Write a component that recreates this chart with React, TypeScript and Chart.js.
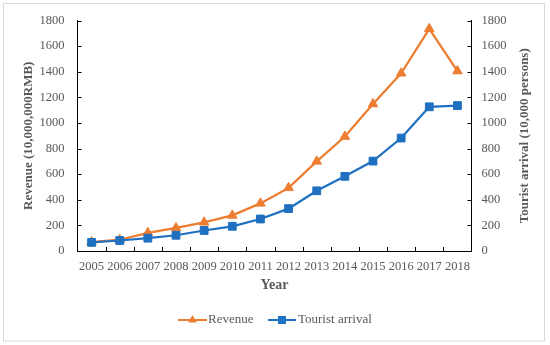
import React, { useEffect, useRef } from "react";
import { Chart, registerables } from "chart.js";

Chart.register(...registerables);

const years = ["2005","2006","2007","2008","2009","2010","2011","2012","2013","2014","2015","2016","2017","2018"];
const revenue = [70, 88, 142, 180, 224, 278, 372, 493, 700, 894, 1148, 1388, 1735, 1405];
const tourists = [67, 82, 100, 123, 160, 193, 250, 331, 470, 583, 702, 882, 1126, 1136];
const yTicksMax = 1800;
const yStep = 200;

const ORANGE = "#ED7D31";
const BLUE = "#1F70C1";
const GRAY = "#595959";
const FONT = "'Liberation Serif', 'Times New Roman', serif";

const decorPlugin = {
  id: "decor",
  beforeDraw(chart: any) {
    const ctx = chart.ctx;
    ctx.save();
    ctx.fillStyle = "#fff";
    ctx.fillRect(0, 0, chart.width, chart.height);
    ctx.strokeStyle = "#d9d9d9";
    ctx.lineWidth = 1;
    ctx.strokeRect(3.5, 3.5, 541, 337.5);
    ctx.restore();
  },
  afterDraw(chart: any) {
    const ctx = chart.ctx;
    const area = chart.chartArea;
    const ys = chart.scales.y;
    ctx.save();
    ctx.strokeStyle = "#000";
    ctx.lineWidth = 1;
    ctx.beginPath();
    ys.ticks.forEach((t: any) => {
      const py = Math.round(ys.getPixelForValue(t.value)) + 0.5;
      ctx.moveTo(area.left, py);
      ctx.lineTo(area.left + 4, py);
      ctx.moveTo(area.right, py);
      ctx.lineTo(area.right - 4, py);
    });
    const n = years.length;
    const w = (area.right - area.left) / n;
    for (let i = 1; i < n; i++) {
      const px = Math.round(area.left + i * w) + 0.5;
      ctx.moveTo(px, area.bottom);
      ctx.lineTo(px, area.bottom - 4);
    }
    ctx.stroke();

    // axis titles
    ctx.fillStyle = GRAY;
    ctx.font = `bold 13px ${FONT}`;
    ctx.textAlign = "center";
    ctx.textBaseline = "middle";
    const cy = (area.top + area.bottom) / 2;
    ctx.save();
    ctx.translate(29, cy);
    ctx.rotate(-Math.PI / 2);
    ctx.fillText("Revenue (10,000,000RMB)", 0, 0);
    ctx.restore();
    ctx.save();
    ctx.translate(525, cy);
    ctx.rotate(-Math.PI / 2);
    ctx.fillText("Tourist arrival (10,000 persons)", 0, 0);
    ctx.restore();
    ctx.font = `bold 14px ${FONT}`;
    ctx.fillText("Year", (area.left + area.right) / 2, 285);

    // legend
    const ly = 320;
    ctx.lineWidth = 2;
    ctx.strokeStyle = ORANGE;
    ctx.fillStyle = ORANGE;
    ctx.beginPath();
    ctx.moveTo(178, ly);
    ctx.lineTo(207, ly);
    ctx.stroke();
    const tr = 5;
    ctx.beginPath();
    ctx.moveTo(192.5, ly - tr);
    ctx.lineTo(192.5 + tr * 0.866, ly + tr * 0.5);
    ctx.lineTo(192.5 - tr * 0.866, ly + tr * 0.5);
    ctx.closePath();
    ctx.fill();
    ctx.strokeStyle = BLUE;
    ctx.fillStyle = BLUE;
    ctx.beginPath();
    ctx.moveTo(268, ly);
    ctx.lineTo(296, ly);
    ctx.stroke();
    ctx.fillRect(282 - 4, ly - 4, 8, 8);
    ctx.fillStyle = GRAY;
    ctx.font = `13px ${FONT}`;
    ctx.textAlign = "left";
    ctx.fillText("Revenue", 208, ly);
    ctx.fillText("Tourist arrival", 298, ly);
    ctx.restore();
  },
};

export default function App() {
  const ref = useRef<HTMLCanvasElement>(null);
  useEffect(() => {
    document.body.style.margin = "0";
    const tickFont = { family: FONT, size: 12.5 };
    const plain = (v: any) => String(v);
    const chart = new Chart(ref.current as HTMLCanvasElement, {
      type: "line",
      data: {
        labels: years,
        datasets: [
          {
            label: "Revenue",
            data: revenue,
            yAxisID: "y",
            borderColor: ORANGE,
            backgroundColor: ORANGE,
            borderWidth: 2.25,
            pointStyle: "triangle",
            pointRadius: 5.5,
            pointBorderWidth: 1,
            tension: 0,
            order: 1,
          },
          {
            label: "Tourist arrival",
            data: tourists,
            yAxisID: "y1",
            borderColor: BLUE,
            backgroundColor: BLUE,
            borderWidth: 2.25,
            pointStyle: "rect",
            pointRadius: 5.5,
            pointBorderWidth: 1,
            tension: 0,
            order: 0,
          },
        ],
      },
      options: {
        responsive: false,
        animation: false,
        devicePixelRatio: 1,
        layout: { padding: { top: 18, left: 0, right: 0, bottom: 0 } },
        plugins: { legend: { display: false }, tooltip: { enabled: false } },
        scales: {
          x: {
            type: "category",
            offset: true,
            grid: { display: true, drawOnChartArea: false, drawTicks: false },
            border: { display: true, color: "#000", width: 1 },
            ticks: { font: tickFont, color: GRAY, padding: 8, maxRotation: 0, autoSkip: false },
            afterFit: (s: any) => { s.height = 94; },
          },
          y: {
            position: "left",
            min: 0,
            max: yTicksMax,
            grid: { display: true, drawOnChartArea: false, drawTicks: false },
            border: { display: true, color: "#000", width: 1 },
            ticks: { stepSize: yStep, font: tickFont, color: GRAY, padding: 13, callback: plain },
            afterFit: (s: any) => { s.width = 77.5; },
          },
          y1: {
            position: "right",
            min: 0,
            max: yTicksMax,
            grid: { display: true, drawOnChartArea: false, drawTicks: false },
            border: { display: true, color: "#000", width: 1 },
            ticks: { stepSize: yStep, font: tickFont, color: GRAY, padding: 10, callback: plain },
            afterFit: (s: any) => { s.width = 78.5; },
          },
        },
      },
      plugins: [decorPlugin],
    } as any);
    return () => chart.destroy();
  }, []);
  return (
    <div style={{ position: "fixed", left: 0, top: 0, width: 550, height: 345 }}>
      <canvas ref={ref} width={550} height={345} />
    </div>
  );
}
